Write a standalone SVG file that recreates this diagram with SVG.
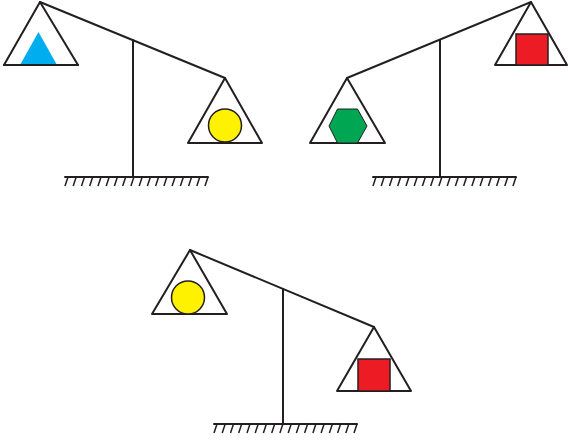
<svg xmlns="http://www.w3.org/2000/svg" width="568" height="444" viewBox="0 0 568 444">
<style>
.ln{stroke:#231f20;stroke-width:2;fill:none;stroke-linecap:round;stroke-linejoin:round}
.pan{stroke:#231f20;stroke-width:2;fill:#fff;stroke-linejoin:round}
.h{stroke:#231f20;stroke-width:1.5}
.yel{fill:#fff200;stroke:#231f20;stroke-width:1.5}
.red{fill:#ed1c24;stroke:#231f20;stroke-width:1.5}
.grn{fill:#00a651;stroke:#231f20;stroke-width:1}
.blu{fill:#00aeef}
</style>
<defs>
<g id="hatch">
<line class="ln" x1="0" y1="0" x2="143" y2="0"/>
<path class="h" d="M3,0l-3,9M11.2,0l-3,9M19.5,0l-3,9M27.7,0l-3,9M36,0l-3,9M44.2,0l-3,9M52.4,0l-3,9M60.7,0l-3,9M68.9,0l-3,9M77.2,0l-3,9M85.4,0l-3,9M93.6,0l-3,9M101.9,0l-3,9M110.1,0l-3,9M118.4,0l-3,9M126.6,0l-3,9M134.8,0l-3,9M143,0l-3,9"/>
</g>
</defs>
<g id="connectors">
<line class="ln" x1="40" y1="2" x2="225" y2="78"/>
<line class="ln" x1="133" y1="40" x2="133" y2="177"/>
<use href="#hatch" x="65" y="177"/>
<line class="ln" x1="531" y1="2" x2="347" y2="78"/>
<line class="ln" x1="440" y1="40" x2="440" y2="177"/>
<use href="#hatch" x="373" y="177"/>
<line class="ln" x1="190" y1="250" x2="374" y2="327"/>
<line class="ln" x1="283" y1="289" x2="283" y2="424"/>
<use href="#hatch" x="214" y="424"/>
</g>
<g id="pan-blue">
<polygon class="pan" points="40,2 4,65 78,65"/>
<polygon class="blu" points="38.5,32 20,65 57,65"/>
<line class="ln" x1="4" y1="65" x2="78" y2="65"/>
</g>
<g id="pan-yellow-1">
<polygon class="pan" points="225,78 188,143 262,143"/>
<circle class="yel" cx="225" cy="125.5" r="16.5"/>
</g>
<g id="pan-red-1">
<polygon class="pan" points="531,2 495,65 567,65"/>
<rect class="red" x="516" y="34" width="32" height="31"/>
</g>
<g id="pan-green">
<polygon class="pan" points="347,78 310,143 385,143"/>
<polygon class="grn" points="329,126 337.5,109 357.5,109 367,126 357.5,143 337.5,143"/>
</g>
<g id="pan-yellow-2">
<polygon class="pan" points="190,250 152,314 227,314"/>
<circle class="yel" cx="188" cy="297.5" r="16.5"/>
</g>
<g id="pan-red-2">
<polygon class="pan" points="374,327 337,391 411,391"/>
<rect class="red" x="358" y="359" width="32" height="32"/>
</g>
</svg>
